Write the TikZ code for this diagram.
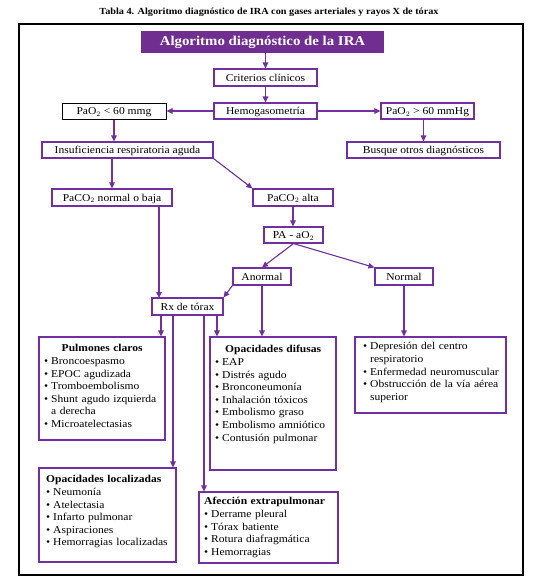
\documentclass[tikz,border=0pt]{standalone}
\usepackage{fontspec}
\setmainfont{Liberation Serif}[FakeStretch=1.1]
\usetikzlibrary{arrows.meta}
\definecolor{pur}{RGB}{112,48,160}
\definecolor{purfill}{RGB}{112,46,145}
\newcommand\bul{\makebox[7pt][l]{\textbullet}}
\newcommand\fst{\rule{0pt}{8pt}}
\newcommand\itm[1]{\par\hangindent=7pt\hangafter=1\noindent\bul#1}
\newcommand\itmf[1]{\hangindent=7pt\hangafter=1\noindent\bul\fst#1}
\newcommand\nl{\hfil\break}
\begin{document}
\begin{tikzpicture}[x=1pt,y=-1pt,
  box/.style={draw=pur, line width=1.1pt, inner sep=0pt, text height=8pt, text depth=1pt, font=\fontsize{10.5}{12.6}\selectfont},
  arr/.style={draw=pur, line width=1.1pt, -{Triangle[length=6pt,width=5.5pt]}},
  lbox/.style={draw=pur, line width=1.1pt, inner sep=0pt},
  lst/.style={inner sep=0pt, anchor=north west, font=\fontsize{10.5}{12.6}\selectfont}]
\useasboundingbox (0,0) rectangle (537,582);
\node[font=\fontsize{9.3}{10}\selectfont\bfseries] (cap) at (269,12) {Tabla 4. Algoritmo diagnóstico de IRA con gases arteriales y rayos X de tórax};
\draw[black, line width=1.6pt] (19,24) rectangle (523,575);
% boxes
\node[fill=purfill, inner sep=0pt, minimum width=243pt, minimum height=22pt, text=white, text height=9.5pt, text depth=2.5pt, font=\fontsize{13.5}{14}\selectfont\bfseries] (title) at (262.5,42) {Algoritmo diagnóstico de la IRA};
\node[box, minimum width=103pt, minimum height=17pt] (crit) at (265.5,77.5) {Criterios clínicos};
\node[box, minimum width=103pt, minimum height=16pt] (hemo) at (265.5,111) {Hemogasometría};
\node[box, draw=black, line width=1pt, minimum width=104pt, minimum height=16pt] (lo) at (114,111) {PaO$_2$ < 60 mmg};
\node[box, minimum width=93pt, minimum height=16pt] (hi) at (427.5,111) {PaO$_2$ > 60 mmHg};
\node[box, minimum width=171pt, minimum height=16pt] (insuf) at (127.5,150) {Insuficiencia respiratoria aguda};
\node[box, minimum width=153pt, minimum height=16pt] (busq) at (423.5,150) {Busque otros diagnósticos};
\node[box, minimum width=120pt, minimum height=17pt] (pnorm) at (112,197.5) {PaCO$_2$ normal o baja};
\node[box, minimum width=80pt, minimum height=17pt] (palta) at (293,197.5) {PaCO$_2$ alta};
\node[box, minimum width=59pt, minimum height=16pt] (paa) at (293.5,235) {PA - aO$_2$};
\node[box, minimum width=58pt, minimum height=17pt] (anorm) at (262,276.5) {Anormal};
\node[box, minimum width=58pt, minimum height=17pt] (norm) at (404,276.5) {Normal};
\node[box, minimum width=71pt, minimum height=17pt] (rx) at (187.5,306.5) {Rx de tórax};
\node[lbox, minimum width=126pt, minimum height=103pt] (pulm) at (102,388.5) {};
\node[lbox, minimum width=126pt, minimum height=133pt] (difu) at (273,403.5) {};
\node[lbox, minimum width=151pt, minimum height=76pt] (cent) at (430.5,375) {};
\node[lbox, minimum width=137pt, minimum height=94pt] (loc) at (107.5,515) {};
\node[lbox, minimum width=139pt, minimum height=71pt] (extra) at (268.5,527.5) {};
% list texts
\node[lst, text width=116pt] (pulmt) at (44,343.6) {\raggedright\fst\makebox[\linewidth]{\bfseries Pulmones claros}
\itm{Broncoespasmo}\itm{EPOC agudizada}\itm{Tromboembolismo}\itm{Shunt agudo izquierda\nl a derecha}\itm{Microatelectasias}\par};
\node[lst, text width=116pt] (difut) at (215,344.6) {\raggedright\fst\makebox[\linewidth]{\bfseries Opacidades difusas}
\itm{EAP}\itm{Distrés agudo}\itm{Bronconeumonía}\itm{Inhalación tóxicos}\itm{Embolismo graso}\itm{Embolismo amniótico}\itm{Contusión pulmonar}\par};
\node[lst, text width=140pt] (centt) at (363,341.6) {\raggedright\itmf{Depresión del centro\nl respiratorio}\itm{Enfermedad neuromuscular}\itm{Obstrucción de la vía aérea\nl superior}\par};
\node[lst, text width=128pt] (loct) at (46,474.6) {\raggedright\fst\textbf{Opacidades localizadas}
\itm{Neumonía}\itm{Atelectasia}\itm{Infarto pulmonar}\itm{Aspiraciones}\itm{Hemorragias localizadas}\par};
\node[lst, text width=130pt] (extrat) at (204,496.6) {\raggedright\fst\textbf{Afección extrapulmonar}
\itm{Derrame pleural}\itm{Tórax batiente}\itm{Rotura diafragmática}\itm{Hemorragias}\par};
% coordinates on Rx bottom
\coordinate (rxa) at (161,315);
\coordinate (rxb) at (173,315);
\coordinate (rxc) at (204,315);
\coordinate (rxd) at (217,315);
\coordinate (rxin) at (159,298);
% connectors
\draw[arr] (crit.north |- title.south) -- (crit.north);
\draw[arr] (crit.south) -- (hemo.north);
\draw[arr] (hemo.west) -- (lo.east);
\draw[arr] (hemo.east) -- (hi.west);
\draw[arr] (lo.south) -- (lo.south |- insuf.north);
\draw[arr] (busq.north |- hi.south) -- (busq.north);
\draw[arr] (pnorm.north |- insuf.south) -- (pnorm.north);
\draw[arr] (insuf.south east) -- (palta.north west);
\draw[arr] (palta.south) -- (palta.south |- paa.north);
\draw[arr] (paa.south) -- (anorm.north);
\draw[arr] (paa.south) -- (norm.north west);
\draw[arr] (anorm.south west) -- (rx.north east);
\draw[arr] (rxin |- pnorm.south) -- (rxin);
\draw[arr] (rxa) -- (rxa |- pulm.north);
\draw[arr] (rxb) -- (rxb |- loc.north);
\draw[arr] (rxc) -- (rxc |- extra.north);
\draw[arr] (rxd) -- (rxd |- difu.north);
\draw[arr] (anorm.south) -- (anorm.south |- difu.north);
\draw[arr] (norm.south) -- (norm.south |- cent.north);
\end{tikzpicture}
\end{document}
